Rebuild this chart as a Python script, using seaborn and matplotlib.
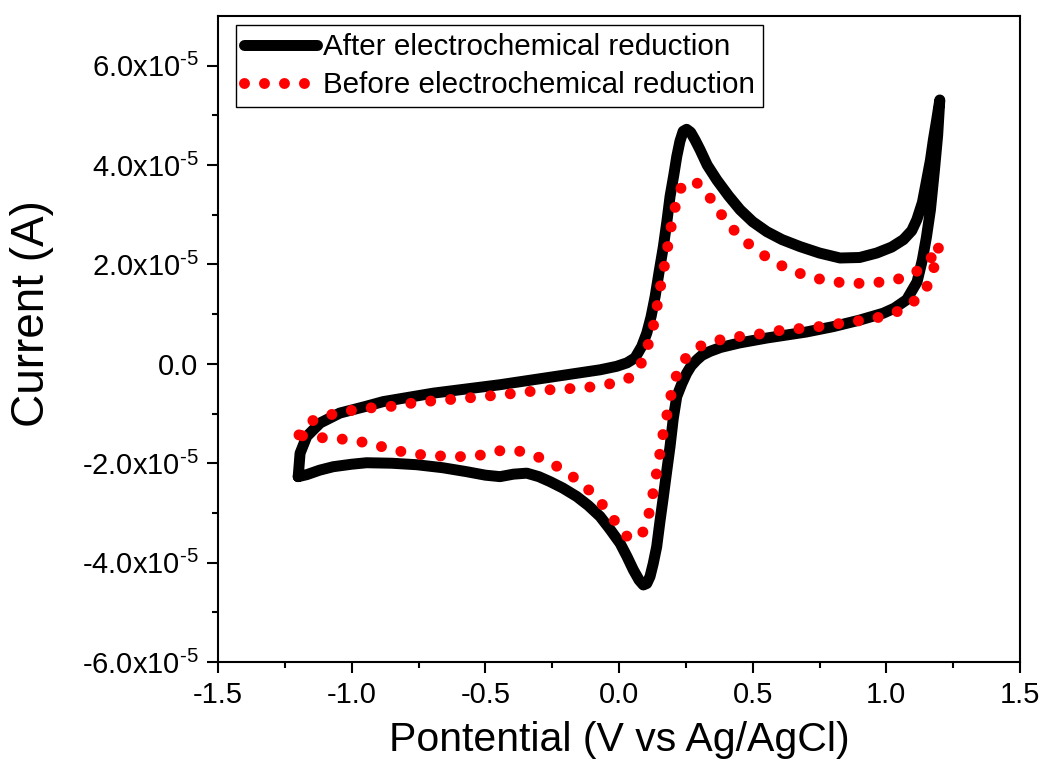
import numpy as np
import matplotlib
matplotlib.use("Agg")
import matplotlib.pyplot as plt
import seaborn as sns

# ---------------- data (potential in V, current in units of 1e-5 A) ----------------
after_potential = [-1.200, -1.193, -1.168, -1.118, -1.044, -0.950, -0.882, -0.695, -0.445, -0.196,
                   -0.071, -0.009, 0.030, 0.060, 0.085, 0.104, 0.120, 0.135, 0.150, 0.166,
                   0.180, 0.191, 0.205, 0.216, 0.228, 0.240, 0.253, 0.268, 0.285, 0.303,
                   0.330, 0.366, 0.410, 0.453, 0.500, 0.553, 0.610, 0.677, 0.750, 0.827,
                   0.900, 0.964, 1.020, 1.064, 1.095, 1.114, 1.135, 1.151, 1.165, 1.176,
                   1.188, 1.200,
                   1.192, 1.180, 1.165, 1.150, 1.135, 1.115, 1.076, 1.030, 0.989, 0.900,
                   0.802, 0.700, 0.553, 0.450, 0.380, 0.340, 0.310, 0.291, 0.270, 0.253,
                   0.235, 0.216, 0.203, 0.191, 0.178, 0.166, 0.153, 0.141, 0.128, 0.116,
                   0.104, 0.091, 0.075, 0.054, 0.030, 0.004, -0.035, -0.071, -0.115, -0.158,
                   -0.210, -0.258, -0.300, -0.345, -0.395, -0.445, -0.500, -0.570, -0.660, -0.757,
                   -0.850, -0.944, -1.000, -1.069, -1.120, -1.168, -1.200]
after_current = [-2.27, -1.80, -1.46, -1.19, -0.99, -0.86, -0.76, -0.59, -0.42, -0.22,
                 -0.12, -0.05, 0.02, 0.12, 0.35, 0.62, 0.95, 1.35, 1.85, 2.36,
                 2.90, 3.37, 3.80, 4.17, 4.48, 4.68, 4.72, 4.66, 4.50, 4.31,
                 4.00, 3.70, 3.38, 3.10, 2.86, 2.66, 2.50, 2.36, 2.23, 2.13,
                 2.14, 2.23, 2.35, 2.50, 2.68, 2.90, 3.25, 3.70, 4.10, 4.51,
                 4.90, 5.31,
                 4.60, 3.90, 3.10, 2.55, 2.10, 1.65, 1.29, 1.12, 1.02, 0.88,
                 0.75, 0.64, 0.52, 0.42, 0.33, 0.25, 0.17, 0.08, -0.04, -0.19,
                 -0.40, -0.66, -1.10, -1.66, -2.18, -2.67, -3.18, -3.68, -4.02, -4.28,
                 -4.42, -4.45, -4.35, -4.15, -3.88, -3.61, -3.32, -3.07, -2.85, -2.67,
                 -2.50, -2.37, -2.27, -2.20, -2.22, -2.27, -2.24, -2.17, -2.09, -2.03,
                 -2.00, -1.99, -2.02, -2.07, -2.14, -2.23, -2.27]

before_potential = [-1.197, -1.143, -1.069, -0.994, -0.919, -0.838, -0.763, -0.688, -0.613, -0.532,
                    -0.457, -0.383, -0.308, -0.227, -0.152, -0.096, -0.021, 0.041, 0.070, 0.091,
                    0.116, 0.135, 0.147, 0.160, 0.175, 0.187, 0.201, 0.218, 0.235, 0.260,
                    0.285, 0.303, 0.349, 0.390, 0.438, 0.496, 0.562, 0.631, 0.702, 0.779,
                    0.854, 0.930, 1.007, 1.078, 1.135, 1.170, 1.198,
                    1.182, 1.160, 1.120, 1.051, 0.976, 0.902, 0.824, 0.749, 0.675, 0.600,
                    0.525, 0.450, 0.375, 0.306, 0.251, 0.213, 0.193, 0.178, 0.163, 0.151,
                    0.138, 0.125, 0.110, 0.095, 0.070, 0.037, -0.012, -0.056, -0.102, -0.165,
                    -0.236, -0.304, -0.377, -0.451, -0.529, -0.605, -0.682, -0.757, -0.829, -0.906,
                    -0.981, -1.059, -1.135, -1.197]
before_current = [-1.43, -1.13, -1.01, -0.93, -0.88, -0.85, -0.78, -0.74, -0.71, -0.67,
                  -0.63, -0.59, -0.54, -0.51, -0.49, -0.46, -0.39, -0.28, -0.12, 0.09,
                  0.50, 0.90, 1.31, 1.70, 2.11, 2.52, 2.93, 3.34, 3.58, 3.68,
                  3.66, 3.60, 3.28, 2.95, 2.64, 2.36, 2.11, 1.91, 1.77, 1.67,
                  1.62, 1.62, 1.66, 1.75, 1.93, 2.15, 2.41,
                  2.01, 1.62, 1.32, 1.07, 0.94, 0.87, 0.81, 0.75, 0.71, 0.67,
                  0.60, 0.55, 0.48, 0.36, 0.13, -0.26, -0.66, -1.06, -1.46, -1.87,
                  -2.27, -2.67, -3.07, -3.35, -3.50, -3.52, -3.19, -2.87, -2.59, -2.30,
                  -2.05, -1.87, -1.75, -1.75, -1.85, -1.87, -1.85, -1.82, -1.75, -1.64,
                  -1.55, -1.50, -1.48, -1.44]

series_labels = ["After electrochemical reduction", "Before electrochemical reduction"]
x_ticks = [-1.5, -1.0, -0.5, 0.0, 0.5, 1.0, 1.5]
x_tick_labels = ["-1.5", "-1.0", "-0.5", "0.0", "0.5", "1.0", "1.5"]
y_ticks = [6e-5, 4e-5, 2e-5, 0.0, -2e-5, -4e-5, -6e-5]
y_tick_labels = [r"6.0x10$^{\text{-5}}$", r"4.0x10$^{\text{-5}}$", r"2.0x10$^{\text{-5}}$", "0.0",
                 r"-2.0x10$^{\text{-5}}$", r"-4.0x10$^{\text{-5}}$", r"-6.0x10$^{\text{-5}}$"]
x_label = "Pontential (V vs Ag/AgCl)"
y_label = "Current (A)"

# ---------------- style ----------------
sns.set_style("ticks")
plt.rcParams["font.family"] = ["Liberation Sans", "DejaVu Sans"]
plt.rcParams["mathtext.fontset"] = "custom"
plt.rcParams["mathtext.rm"] = "Liberation Sans"
plt.rcParams["mathtext.it"] = "Liberation Sans:italic"
plt.rcParams["mathtext.default"] = "regular"
plt.rcParams["axes.unicode_minus"] = False
for key in ["text.color", "axes.labelcolor", "xtick.color", "ytick.color", "axes.edgecolor"]:
    plt.rcParams[key] = "black"

fig = plt.figure(figsize=(10.43, 7.69), dpi=100)
ax = fig.add_axes([218 / 1043, 1 - 662 / 769, (1020 - 218) / 1043, (662 - 16) / 769])

sns.lineplot(x=np.array(after_potential), y=np.array(after_current) * 1e-5, sort=False,
             estimator=None, ax=ax, color="black", linewidth=7.9,
             solid_capstyle="round", solid_joinstyle="round", label=series_labels[0])
sns.lineplot(x=np.array(before_potential), y=np.array(before_current) * 1e-5, sort=False,
             estimator=None, ax=ax, color="#ff0000", linewidth=7.9,
             linestyle=(0, (0.001, 1.82)), dash_capstyle="round", label=series_labels[1])

ax.set_xlim(-1.5, 1.5)
ax.set_ylim(-6e-5, 7e-5)
ax.set_xticks(x_ticks)
ax.set_xticklabels(x_tick_labels)
ax.set_yticks(y_ticks)
ax.set_yticklabels(y_tick_labels)
ax.set_xticks(np.arange(-1.25, 1.5, 0.5), minor=True)
ax.set_yticks(np.arange(-5e-5, 7e-5, 2e-5), minor=True)

for s in ax.spines.values():
    s.set_linewidth(1.5)
    s.set_color("black")
ax.tick_params(axis="both", which="major", direction="out", length=8, width=1.5,
               labelsize=21, colors="black", pad=6)
ax.tick_params(axis="both", which="minor", direction="out", length=4, width=1.5)
ax.tick_params(top=False, right=False, which="both")

ax.set_xlabel(x_label, fontsize=29.5)
ax.set_ylabel(y_label, fontsize=33)
ax.xaxis.set_label_coords(0.5, -0.091)
ax.yaxis.set_label_coords(-0.205, 0.54)

leg = ax.legend(loc="upper left", bbox_to_anchor=(236 / 1043, 1 - 25 / 769),
                bbox_transform=fig.transFigure, borderaxespad=0, fontsize=21.3,
                frameon=True, fancybox=False, edgecolor="black", framealpha=1,
                handlelength=2.45, handletextpad=0.2, borderpad=0.28, labelspacing=0.33)
leg.get_frame().set_linewidth(1.0)

fig.savefig("out.png", dpi=100)
